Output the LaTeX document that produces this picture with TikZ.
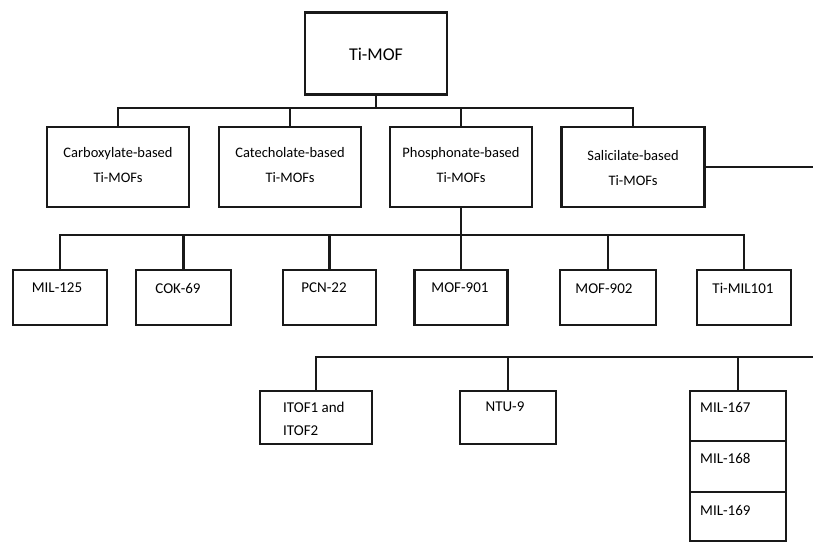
\documentclass[tikz,border=0pt]{standalone}
\usepackage{fontspec}
\setmainfont{Carlito}
\begin{document}
\begin{tikzpicture}[x=1pt,y=-1pt,
  box/.style={draw=black!90, line width=2.6pt, rectangle, inner sep=0pt},
  conn/.style={draw=black!90, line width=2.3pt},
  topfont/.style={font=\fontsize{18}{20}\selectfont},
  lvltwo/.style={font=\fontsize{14.5}{25}\selectfont, align=center, inner sep=0pt},
  lvlthree/.style={font=\fontsize{15}{18}\selectfont, inner sep=0pt},
  lvlfour/.style={font=\fontsize{15}{24}\selectfont, inner sep=0pt}]
\useasboundingbox (0,0) rectangle (813,544);
\fill[white] (0,0) rectangle (813,544);
% level 1
\node[box, minimum width=142, minimum height=82] (timof) at (376,53.5) {};
\node[topfont] (timoft) at (376,54) {Ti-MOF};
% level 2
\node[box, minimum width=142, minimum height=80] (carb) at (118,167) {};
\node[box, minimum width=142, minimum height=80] (cate) at (290,167) {};
\node[box, minimum width=142, minimum height=80] (phos) at (461,167) {};
\node[box, minimum width=143, minimum height=80] (sali) at (633,167) {};
\node[lvltwo] (carbt) at (118,165.5) {Carboxylate-based\\Ti-MOFs};
\node[lvltwo] (catet) at (290,165.5) {Catecholate-based\\Ti-MOFs};
\node[lvltwo] (phost) at (461,165.5) {Phosphonate-based\\Ti-MOFs};
\node[lvltwo] (salit) at (633,168) {Salicilate-based\\Ti-MOFs};
\coordinate (bar1) at (376,108);
\draw[conn] (timof.south) -- (bar1);
\draw[conn] (carb.north) |- (bar1);
\draw[conn] (sali.north) |- (bar1);
\draw[conn] (cate.north) -- (cate.north |- bar1);
\draw[conn] (phos.north) -- (phos.north |- bar1);
\coordinate (edge2) at (813,167);
\draw[conn] (sali.east) -- (edge2);
% level 3
\node[box, minimum width=94, minimum height=55] (mil125) at (60,297.5) {};
\node[box, minimum width=95, minimum height=55] (cok) at (183.5,297.5) {};
\node[box, minimum width=93, minimum height=55] (pcn) at (329.5,297.5) {};
\node[box, minimum width=93, minimum height=55] (mof901) at (461,297.5) {};
\node[box, minimum width=96, minimum height=55] (mof902) at (608,297.5) {};
\node[box, minimum width=94, minimum height=55] (timil) at (744,297.5) {};
\node[lvlthree] (mil125t) at (57,288) {MIL-125};
\node[lvlthree] (cokt) at (178,288) {COK-69};
\node[lvlthree] (pcnt) at (324,288) {PCN-22};
\node[lvlthree] (mof901t) at (460,288) {MOF-901};
\node[lvlthree] (mof902t) at (604,289) {MOF-902};
\node[lvlthree] (timilt) at (743,288) {Ti-MIL101};
\coordinate (bar2) at (461,235);
\draw[conn] (phos.south) -- (mof901.north);
\draw[conn] (mil125.north) |- (bar2);
\draw[conn] (timil.north) |- (bar2);
\draw[conn] (cok.north) -- (cok.north |- bar2);
\draw[conn] (pcn.north) -- (pcn.north |- bar2);
\draw[conn] (mof902.north) -- (mof902.north |- bar2);
% level 4
\node[box, minimum width=112, minimum height=53] (itof) at (316,417.5) {};
\node[box, minimum width=96, minimum height=53] (ntu) at (508,417.5) {};
\node[box, minimum width=96, minimum height=50] (mil167) at (738,416) {};
\node[box, minimum width=96, minimum height=51] (mil168) at (738,466.5) {};
\node[box, minimum width=96, minimum height=49] (mil169) at (738,516.5) {};
\node[lvlfour, anchor=west] (itoft) at (283,407) {ITOF1 and};
\node[lvlfour, anchor=west] (itoft2) at (283,431) {ITOF2};
\node[lvlfour] (ntut) at (505,407) {NTU-9};
\node[lvlfour, anchor=west] (mil167t) at (700,407) {MIL-167};
\node[lvlfour, anchor=west] (mil168t) at (700,458) {MIL-168};
\node[lvlfour, anchor=west] (mil169t) at (700,510) {MIL-169};
\coordinate (edge4) at (813,357);
\draw[conn] (itof.north) |- (edge4);
\draw[conn] (ntu.north) -- (ntu.north |- edge4);
\draw[conn] (mil167.north) -- (mil167.north |- edge4);
\end{tikzpicture}
\end{document}
